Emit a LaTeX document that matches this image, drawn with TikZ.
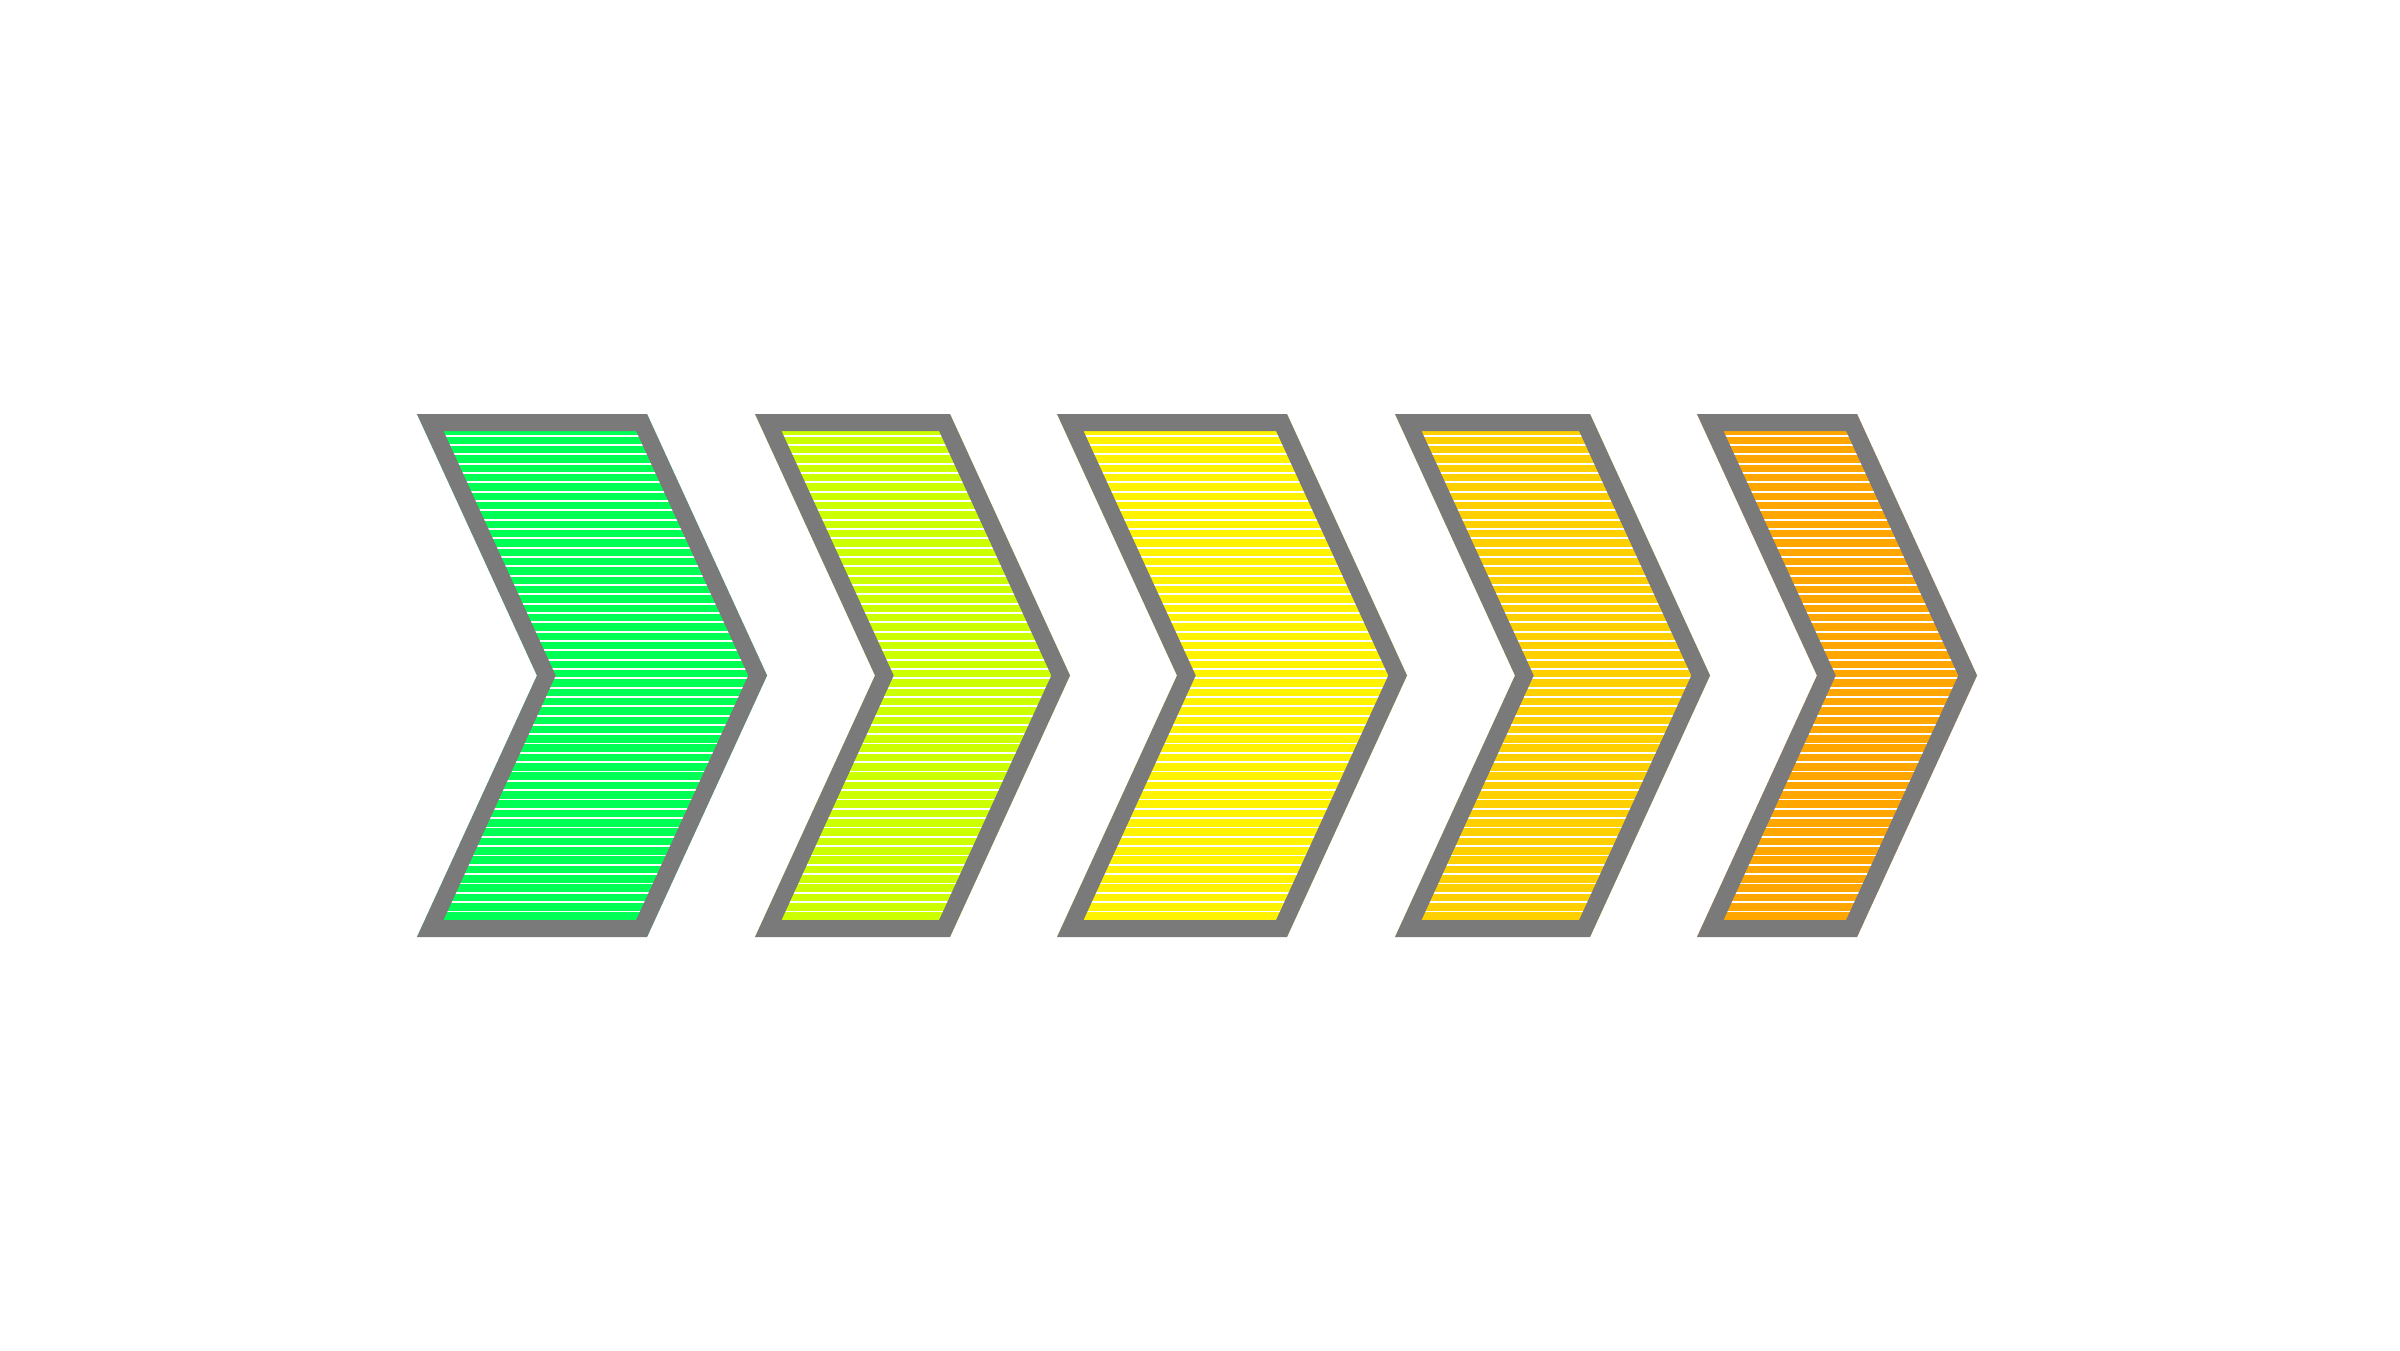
\documentclass[tikz,border=0pt]{standalone}
\usepackage{tikz}
\definecolor{stageA}{RGB}{0,255,85}
\definecolor{stageB}{RGB}{204,255,0}
\definecolor{stageC}{RGB}{255,243,0}
\definecolor{stageD}{RGB}{255,208,0}
\definecolor{stageE}{RGB}{255,166,0}
\definecolor{rimgray}{RGB}{122,122,122}
\tikzset{chevron border/.style={draw=rimgray,line width=3.4mm,line join=miter},stripe/.style={white,line width=0.18mm}}
% #1 left x, #2 top width, #3 fill colour
\newcommand{\chevron}[3]{%
  \begin{scope}
    \clip (#1,414) -- ++(#2,0) -- ++(120,261.5) -- ++(-120,261.5) -- ++(-#2,0) -- ++(120,-261.5) -- cycle;
    \fill[#3] (#1,414) rectangle ++(#2+130,523);
    \foreach \y in {435.7,445.03,...,925} \draw[stripe] (#1,\y) -- ++(#2+130,0);
    \draw[chevron border] (#1,414) -- ++(#2,0) -- ++(120,261.5) -- ++(-120,261.5) -- ++(-#2,0) -- ++(120,-261.5) -- cycle;
  \end{scope}}

\begin{document}
\begin{tikzpicture}[x=0.1mm,y=-0.1mm]
    \useasboundingbox[fill=white] (0,0) rectangle (2400,1350);
    \chevron{417}{230}{stageA}
    \chevron{755}{195}{stageB}
    \chevron{1057}{230}{stageC}
    \chevron{1395}{195}{stageD}
    \chevron{1697}{160}{stageE}
  \end{tikzpicture}
\end{document}
